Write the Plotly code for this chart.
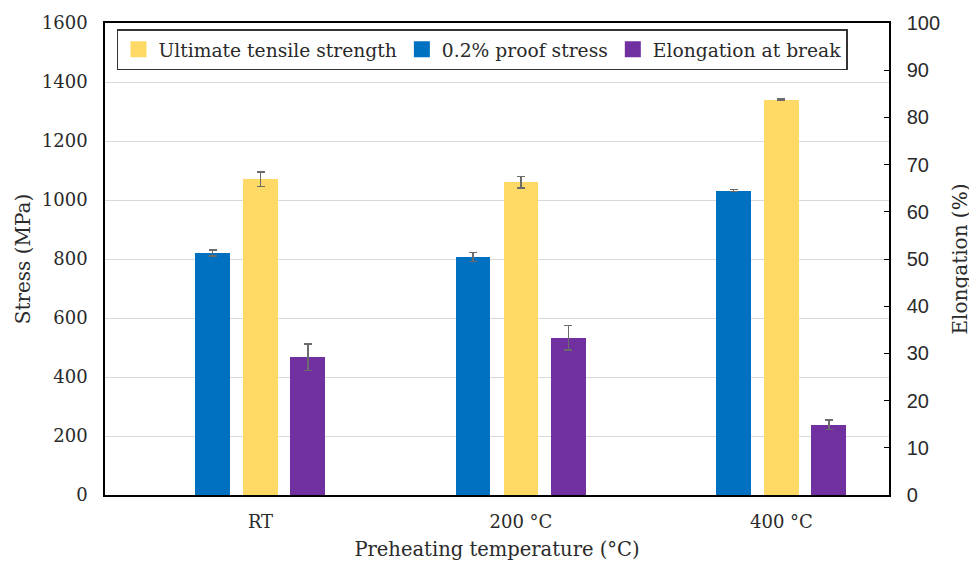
import plotly.graph_objects as go

categories = ["RT", "200 °C", "400 °C"]
uts = [1070, 1060, 1340]
uts_err = [25, 20, 3]
proof = [820, 807, 1032]
proof_err = [10, 15, 4]
elong = [29.2, 33.3, 14.9]
elong_err = [2.8, 2.6, 1.0]

stress_ticks = [0, 200, 400, 600, 800, 1000, 1200, 1400, 1600]
elong_ticks = list(range(0, 101, 10))

BLUE = "#0070C0"
YELLOW = "#FFD966"
PURPLE = "#7030A0"
ERR = "#6b6b6b"
SERIF = "DejaVu Serif"
SANS = "Liberation Sans"
TXT = "#2a2a2a"

W = 0.134
fig = go.Figure()
err_style = dict(thickness=1.5, width=4, color=ERR)
fig.add_trace(go.Bar(x=categories, y=proof, name="0.2% proof stress", marker=dict(color=BLUE, line=dict(width=0)),
                     width=W, offset=-0.251, error_y=dict(type="data", array=proof_err, **err_style),
                     showlegend=False, yaxis="y"))
fig.add_trace(go.Bar(x=categories, y=uts, name="Ultimate tensile strength", marker=dict(color=YELLOW, line=dict(width=0)),
                     width=W, offset=-0.067, error_y=dict(type="data", array=uts_err, **err_style),
                     showlegend=False, yaxis="y"))
fig.add_trace(go.Bar(x=categories, y=elong, name="Elongation at break", marker=dict(color=PURPLE, line=dict(width=0)),
                     width=W, offset=0.115, error_y=dict(type="data", array=elong_err, **err_style),
                     showlegend=False, yaxis="y2"))

# legend entries (square swatches)
for name, col in [("Ultimate tensile strength", YELLOW), ("0.2% proof stress", BLUE), ("Elongation at break", PURPLE)]:
    fig.add_trace(go.Scatter(x=[None], y=[None], mode="markers", name=name,
                             marker=dict(symbol="square", size=22, color=col), showlegend=True))

# page body has an 8px margin, so the figure is 8px smaller and shifted
fig.update_layout(
    width=969, height=553,
    margin=dict(l=97, r=88, t=15, b=66, autoexpand=False),
    paper_bgcolor="white", plot_bgcolor="white",
    barmode="overlay",
    bargap=0,
    font=dict(family=SERIF, size=18, color=TXT),
    xaxis=dict(
        type="category", range=[-0.597, 2.413], automargin=False,
        showline=True, linecolor="black", linewidth=1.5, mirror=True,
        ticks="", showgrid=False,
        tickfont=dict(family=SERIF, size=18, color=TXT),
        ticklabelstandoff=10,
        title=dict(text="Preheating temperature (°C)", font=dict(family=SERIF, size=19.5, color=TXT), standoff=12),
    ),
    yaxis=dict(
        range=[0, 1600], tickvals=stress_ticks, automargin=False,
        showline=True, linecolor="black", linewidth=1.5,
        showgrid=True, gridcolor="#d9d9d9", gridwidth=1.2,
        ticks="", zeroline=False,
        tickfont=dict(family=SERIF, size=18, color=TXT),
        ticklabelstandoff=12,
        title=dict(text="Stress (MPa)", font=dict(family=SERIF, size=20, color=TXT), standoff=6),
    ),
    yaxis2=dict(
        range=[0, 100], tickvals=elong_ticks, overlaying="y", side="right", automargin=False,
        showline=True, linecolor="black", linewidth=1.5,
        showgrid=False, zeroline=False,
        ticks="inside", ticklen=5, tickwidth=1.2, tickcolor="black",
        tickfont=dict(family=SANS, size=20, color=TXT),
        ticklabelstandoff=12,
        title=dict(text="Elongation (%)", font=dict(family=SERIF, size=20, color=TXT), standoff=14),
    ),
    legend=dict(
        orientation="h", x=0.0153, y=0.987, xanchor="left", yanchor="top",
        bordercolor="#333333", borderwidth=1.5, bgcolor="white",
        font=dict(family=SERIF, size=18.7, color=TXT),
        itemwidth=30, tracegroupgap=0,
    ),
)

fig.write_html("out.html")
